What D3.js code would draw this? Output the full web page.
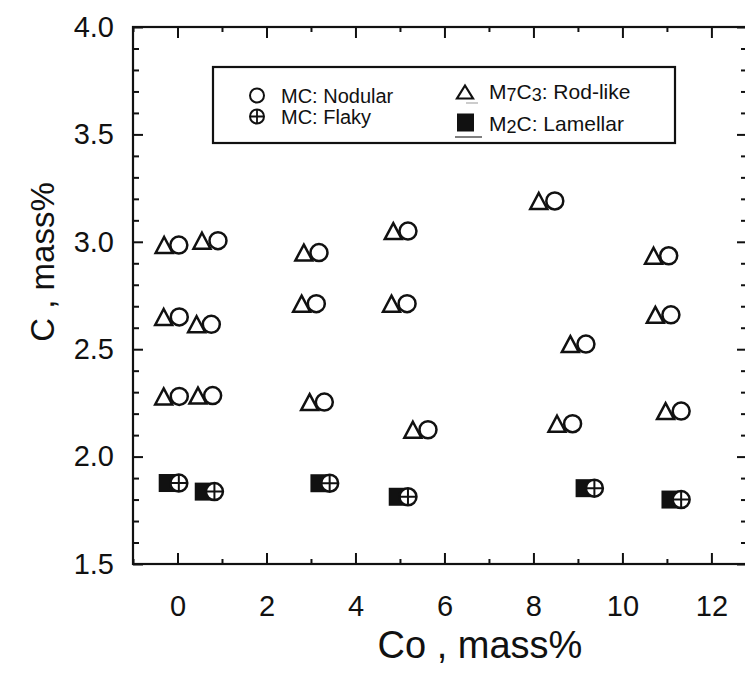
<!DOCTYPE html>
<html><head><meta charset="utf-8">
<script src="https://cdn.jsdelivr.net/npm/d3@7"></script>
<style>html,body{margin:0;padding:0;background:#fff;}svg{display:block;}</style>
</head><body>
<svg id="c" width="745" height="677"></svg>
<script>
// ---- data ----
const nodularX = [0.03, 0.91, 3.18, 5.18, 0.04, 0.76, 3.12, 5.16, 8.48, 9.18, 11.04, 11.09, 0.04, 0.79, 3.30, 5.63, 8.88, 11.32];
const nodularY = [2.985, 3.005, 2.95, 3.05, 2.65, 2.616, 2.712, 2.712, 3.19, 2.524, 2.935, 2.66, 2.28, 2.284, 2.254, 2.125, 2.153, 2.212];
const rodX = [-0.30, 0.55, 2.84, 4.85, -0.31, 0.43, 2.79, 4.81, 8.12, 8.83, 10.70, 10.74, -0.31, 0.46, 2.97, 5.29, 8.53, 10.97];
const rodY = [2.985, 3.005, 2.95, 3.05, 2.65, 2.616, 2.712, 2.712, 3.19, 2.524, 2.935, 2.66, 2.28, 2.284, 2.254, 2.125, 2.153, 2.212];
const flakyX = [0.03, 0.83, 3.42, 5.18, 9.37, 11.32];
const flakyY = [1.877, 1.837, 1.876, 1.813, 1.853, 1.80];
const lamellarX = [-0.22, 0.59, 3.19, 4.95, 9.15, 11.08];
const lamellarY = [1.877, 1.837, 1.876, 1.813, 1.853, 1.80];
const xTickLabels = [0, 2, 4, 6, 8, 10, 12];
const yTickLabels = [1.5, 2.0, 2.5, 3.0, 3.5, 4.0];
const legendLabels = ["MC: Nodular", "MC: Flaky", "M7C3: Rod-like", "M2C: Lamellar"];

// ---- layout ----
const svg = d3.select("#c");
const L = 133, R = 747, T = 27, B = 564;
const x = d3.scaleLinear().domain([-1, 12.8]).range([L, R]);
const y = d3.scaleLinear().domain([1.5, 4.0]).range([B, T]);
const FONT = "'Liberation Sans', Arial, Helvetica, sans-serif";
const ink = "#111";

const g = svg.append("g");

// minor ticks
const xMinor = d3.range(-1, 13, 1).filter(v => v % 2 !== 0);
const yMinor = d3.range(15, 41, 1).map(v => v / 10).filter(v => Math.round(v * 10) % 5 !== 0);

function styleAxis(sel) {
  sel.select(".domain").remove();
  sel.selectAll("line").attr("stroke", ink).attr("stroke-width", 2);
  sel.selectAll("text").attr("font-family", FONT).attr("font-size", 29).attr("fill", ink);
}

// bottom
g.append("g").attr("transform", `translate(0,${B})`)
  .call(d3.axisBottom(x).tickValues(xTickLabels).tickSize(-11).tickPadding(31).tickFormat(d3.format("d")))
  .call(styleAxis);
g.append("g").attr("transform", `translate(0,${B})`)
  .call(d3.axisBottom(x).tickValues(xMinor).tickSize(-5).tickFormat(""))
  .call(styleAxis);
// top
g.append("g").attr("transform", `translate(0,${T})`)
  .call(d3.axisTop(x).tickValues(xTickLabels).tickSize(-11).tickFormat(""))
  .call(styleAxis);
g.append("g").attr("transform", `translate(0,${T})`)
  .call(d3.axisTop(x).tickValues(xMinor).tickSize(-5).tickFormat(""))
  .call(styleAxis);
// left
g.append("g").attr("transform", `translate(${L},0)`)
  .call(d3.axisLeft(y).tickValues(yTickLabels).tickSize(-10).tickPadding(19).tickFormat(d3.format(".1f")))
  .call(styleAxis);
g.append("g").attr("transform", `translate(${L},0)`)
  .call(d3.axisLeft(y).tickValues(yMinor).tickSize(-6).tickFormat(""))
  .call(styleAxis);
// right
g.append("g").attr("transform", `translate(${R},0)`)
  .call(d3.axisRight(y).tickValues(yTickLabels).tickSize(-10).tickFormat(""))
  .call(styleAxis);
g.append("g").attr("transform", `translate(${R},0)`)
  .call(d3.axisRight(y).tickValues(yMinor).tickSize(-6).tickFormat(""))
  .call(styleAxis);

// frame
g.append("rect").attr("x", L).attr("y", T).attr("width", R - L).attr("height", B - T)
  .attr("fill", "none").attr("stroke", ink).attr("stroke-width", 2.2);

// axis titles
svg.append("text").attr("x", 480).attr("y", 658)
  .attr("text-anchor", "middle").attr("font-family", FONT).attr("font-size", 38).attr("fill", ink)
  .text("Co , mass%");
svg.append("text").attr("transform", `translate(54,262) rotate(-90)`)
  .attr("text-anchor", "middle").attr("font-family", FONT).attr("font-size", 33).attr("fill", ink)
  .text("C , mass%");

// ---- marker shapes ----
const triW = 17, triH = 16, rC = 8.5, sq = 18;
function triPath(cx, cy) {
  return `M${cx},${cy - triH / 2} L${cx + triW / 2},${cy + triH / 2} L${cx - triW / 2},${cy + triH / 2} Z`;
}
const sw = 2.5;
const marks = svg.append("g");

// triangles (M7C3 rod-like)
marks.selectAll("path.rod").data(d3.zip(rodX, rodY)).join("path").attr("class", "rod")
  .attr("d", d => triPath(x(d[0]), y(d[1])))
  .attr("fill", "none").attr("stroke", ink).attr("stroke-width", sw).attr("stroke-linejoin", "miter");
// circles (MC nodular)
marks.selectAll("circle.nod").data(d3.zip(nodularX, nodularY)).join("circle").attr("class", "nod")
  .attr("cx", d => x(d[0])).attr("cy", d => y(d[1])).attr("r", rC)
  .attr("fill", "none").attr("stroke", ink).attr("stroke-width", sw);
// squares (M2C lamellar)
marks.selectAll("rect.lam").data(d3.zip(lamellarX, lamellarY)).join("rect").attr("class", "lam")
  .attr("x", d => x(d[0]) - sq / 2).attr("y", d => y(d[1]) - sq / 2)
  .attr("width", sq).attr("height", sq).attr("fill", ink);
// crossed circles (MC flaky)
const fl = marks.selectAll("g.fl").data(d3.zip(flakyX, flakyY)).join("g").attr("class", "fl")
  .attr("transform", d => `translate(${x(d[0])},${y(d[1])})`);
fl.append("circle").attr("r", rC).attr("fill", "#fff").attr("stroke", ink).attr("stroke-width", sw);
fl.append("path").attr("d", `M${-rC},0 H${rC} M0,${-rC} V${rC}`).attr("stroke", ink).attr("stroke-width", 2);

// ---- legend ----
const lg = svg.append("g");
lg.append("rect").attr("x", 213).attr("y", 67).attr("width", 462).attr("height", 76)
  .attr("fill", "#fff").attr("stroke", ink).attr("stroke-width", 2.2);
function legendText(tx, ty, label, fs) {
  const t = lg.append("text").attr("x", tx).attr("y", ty).attr("font-family", FONT)
    .attr("font-size", fs).attr("fill", ink);
  const parts = label.split(/(\d)/).filter(s => s.length);
  let shifted = false;
  parts.forEach(p => {
    if (/\d/.test(p)) { t.append("tspan").attr("font-size", fs - 3).attr("dy", 2).text(p); shifted = true; }
    else {
      const sp = t.append("tspan").text(p);
      if (shifted) { sp.attr("dy", -2); shifted = false; }
    }
  });
}
// nodular
lg.append("circle").attr("cx", 257).attr("cy", 95.5).attr("r", 7).attr("fill", "none").attr("stroke", ink).attr("stroke-width", 2);
legendText(281, 103, legendLabels[0], 20);
// flaky
lg.append("circle").attr("cx", 257).attr("cy", 116.5).attr("r", 7).attr("fill", "#fff").attr("stroke", ink).attr("stroke-width", 2);
lg.append("path").attr("d", "M250,116.5 H264 M257,109.5 V123.5").attr("stroke", ink).attr("stroke-width", 1.8);
legendText(281, 123.5, legendLabels[1], 20);
// rod-like
lg.append("path").attr("d", "M465,85.5 L473,98.5 L457,98.5 Z").attr("fill", "none").attr("stroke", ink).attr("stroke-width", 2.2);
lg.append("line").attr("x1", 466).attr("x2", 478).attr("y1", 103).attr("y2", 103).attr("stroke", "#bbb").attr("stroke-width", 1.5);
legendText(489, 98.5, legendLabels[2], 21);
// lamellar
lg.append("rect").attr("x", 457).attr("y", 113.5).attr("width", 17).attr("height", 18).attr("fill", ink);
lg.append("line").attr("x1", 455).attr("x2", 482).attr("y1", 137).attr("y2", 137).attr("stroke", "#555").attr("stroke-width", 1.5);
legendText(489, 130.5, legendLabels[3], 21);
</script>
</body></html>
